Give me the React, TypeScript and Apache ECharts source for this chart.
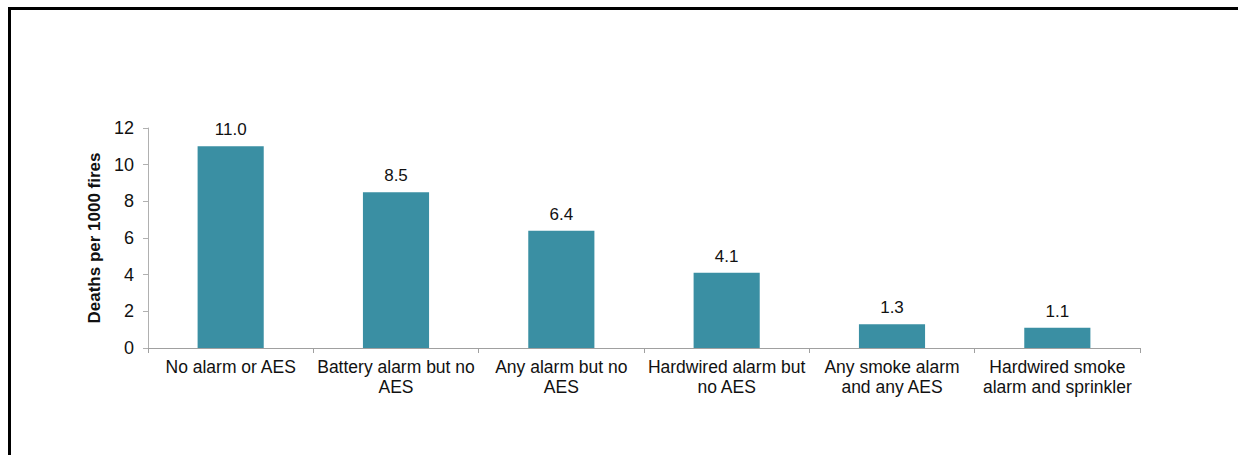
import React, { useEffect, useRef } from "react";
import * as echarts from "echarts";

const categories = [
  "No alarm or AES",
  "Battery alarm but no\nAES",
  "Any alarm but no\nAES",
  "Hardwired alarm but\nno AES",
  "Any smoke alarm\nand any AES",
  "Hardwired smoke\nalarm and sprinkler",
];
const deaths = [11.0, 8.5, 6.4, 4.1, 1.3, 1.1];
const yMin = 0;
const yMax = 12;
const yInterval = 2;

export default function App() {
  const ref = useRef<HTMLDivElement>(null);
  useEffect(() => {
    const chart = echarts.init(ref.current!, null, { renderer: "svg" });
    chart.setOption({
      animation: false,
      backgroundColor: "#ffffff",
      textStyle: { fontFamily: "Liberation Sans, Arial, sans-serif" },
      graphic: [
        { type: "rect", shape: { x: 8, y: 7, width: 1230, height: 3 }, style: { fill: "#000" } },
        { type: "rect", shape: { x: 8, y: 7, width: 3, height: 448 }, style: { fill: "#000" } },
      ],
      grid: { left: 148, right: 98, top: 128, bottom: 107, containLabel: false },
      xAxis: {
        type: "category",
        data: categories,
        axisLine: { lineStyle: { color: "#a0a0a0", width: 1 } },
        axisTick: { show: true, length: 5, alignWithLabel: false, lineStyle: { color: "#a0a0a0" } },
        axisLabel: {
          interval: 0,
          color: "#111",
          fontSize: 17.5,
          lineHeight: 20,
          margin: 9,
          fontFamily: "Liberation Sans, Arial, sans-serif",
        },
      },
      yAxis: {
        type: "value",
        min: yMin,
        max: yMax,
        interval: yInterval,
        name: "Deaths per 1000 fires",
        nameLocation: "middle",
        nameGap: 42,
        nameTextStyle: { fontSize: 17, fontWeight: "bold", color: "#111", fontFamily: "Liberation Sans, Arial, sans-serif" },
        axisLine: { show: true, lineStyle: { color: "#b0b0b0" } },
        axisTick: { show: true, length: 5, lineStyle: { color: "#b0b0b0" } },
        splitLine: { show: false },
        axisLabel: { color: "#111", fontSize: 18, margin: 14, fontFamily: "Liberation Sans, Arial, sans-serif" },
      },
      series: [
        {
          type: "bar",
          data: deaths,
          barWidth: "40%",
          itemStyle: { color: "#3a8fa3" },
          label: {
            show: true,
            position: "top",
            distance: 8,
            color: "#111",
            fontSize: 17,
            fontFamily: "Liberation Sans, Arial, sans-serif",
            formatter: (p: any) => Number(p.value).toFixed(1),
          },
        },
      ],
    });
    return () => chart.dispose();
  }, []);
  return (
    <div
      ref={ref}
      style={{ position: "fixed", left: 0, top: 0, width: 1238, height: 455 }}
    />
  );
}
